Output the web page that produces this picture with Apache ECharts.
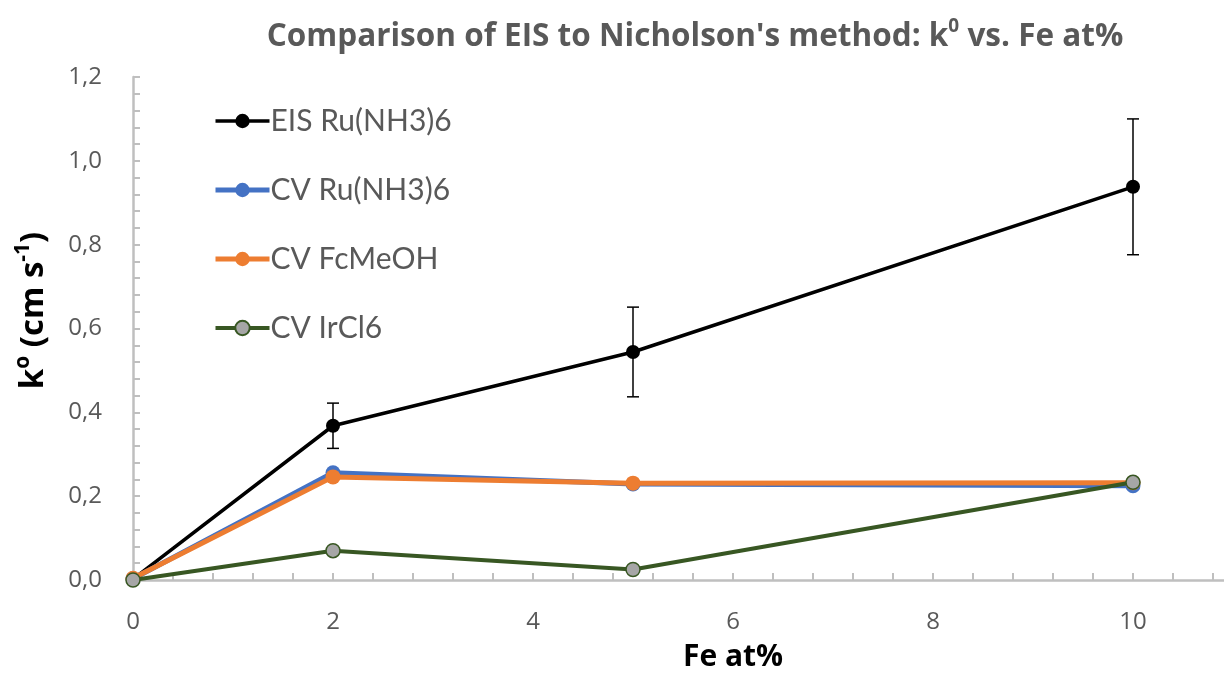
<!DOCTYPE html>
<html>
<head>
<meta charset="utf-8">
<script src="https://cdn.jsdelivr.net/npm/echarts@6/dist/echarts.min.js"></script>
<style>
html,body{margin:0;padding:0;background:#fff;}
#chart{width:1224px;height:677px;}
</style>
</head>
<body>
<div id="chart"></div>
<script>
// ---- data ----
const feAt = [0, 2, 5, 10];
const eisRu = [0.002, 0.368, 0.544, 0.938];
const eisErr = [0, 0.054, 0.107, 0.162];
const cvRu = [0.003, 0.256, 0.229, 0.225];
const cvFc = [0.004, 0.246, 0.231, 0.232];
const cvIr = [0.0, 0.070, 0.025, 0.233];
const seriesNames = ['EIS Ru(NH3)6', 'CV Ru(NH3)6', 'CV FcMeOH', 'CV IrCl6'];
const xTicks = [0, 2, 4, 6, 8, 10];
const yTicks = [0, 0.2, 0.4, 0.6, 0.8, 1.0, 1.2];

const FONT = 'Open Sans';
const LFONT = 'Lato';
const pairs = arr => feAt.map((x, i) => [x, arr[i]]);
const errData = feAt.map((x, i) => [x, eisRu[i] - eisErr[i], eisRu[i] + eisErr[i]]).filter((d, i) => eisErr[i] > 0);

const chart = echarts.init(document.getElementById('chart'), null, {renderer: 'canvas'});
const axisGray = '#bfbfbf';
const labelGray = '#595959';
const colors = ['#000000', '#4472c4', '#ed7d31', '#385723'];
const widths = [3.5, 5, 5, 4];

const option = {
  backgroundColor: '#fff',
  animation: false,
  textStyle: {fontFamily: FONT},
  title: {
    text: '{a|Comparison of EIS to Nicholson\'s method: k}{s|0}{a| vs. Fe at%}',
    left: 690,
    top: 12,
    textAlign: 'center',
    textStyle: {
      rich: {
        a: {fontFamily: FONT, fontSize: 31.5, fontWeight: 'bold', color: labelGray, lineHeight: 40},
        s: {fontFamily: FONT, fontSize: 19, fontWeight: 'bold', color: labelGray, verticalAlign: 'top', lineHeight: 40, padding: [0, 0, 14, 0]}
      }
    }
  },
  legend: {
    data: seriesNames.map((n, i) => ({name: n, lineStyle: {width: widths[i]}})),
    orient: 'vertical',
    left: 208,
    top: 98,
    itemWidth: 54,
    itemHeight: 18,
    itemGap: 33,
    textStyle: {fontFamily: LFONT, fontSize: 30, lineHeight: 36, color: labelGray, padding: [0, 0, 0, -4]}
  },
  grid: {left: 133, width: 1200, top: 77, bottom: 97, containLabel: false, outerBoundsMode: 'none'},
  xAxis: {
    type: 'value',
    min: 0,
    max: 12,
    interval: 2,
    name: 'Fe at%',
    nameLocation: 'middle',
    nameGap: 62,
    nameTextStyle: {fontFamily: FONT, fontSize: 30, fontWeight: 'bold', color: '#000'},
    axisLine: {lineStyle: {color: axisGray, width: 2.5}},
    axisTick: {inside: true, length: 7, lineStyle: {color: axisGray, width: 2}},
    minorTick: {show: true, splitNumber: 5, length: 7, lineStyle: {color: axisGray, width: 2}},
    splitLine: {show: false},
    axisLabel: {
      margin: 30, fontFamily: FONT, fontSize: 24, color: labelGray,
      formatter: v => (xTicks.indexOf(v) >= 0 ? String(v) : '')
    }
  },
  yAxis: {
    type: 'value',
    min: 0,
    max: 1.2,
    interval: 0.2,
    name: '{b|k}{s|o}{b| (cm s}{s|-1}{b|)}',
    nameLocation: 'middle',
    nameGap: 78,
    nameTextStyle: {
      padding: [0, 0, 0, 36],
      rich: {
        b: {fontFamily: FONT, fontSize: 33, fontWeight: 'bold', color: '#000', lineHeight: 42},
        s: {fontFamily: FONT, fontSize: 21, fontWeight: 'bold', color: '#000', verticalAlign: 'top', lineHeight: 42, padding: [0, 0, 13, 0]}
      }
    },
    axisLine: {show: true, lineStyle: {color: axisGray, width: 2.5}},
    axisTick: {show: true, inside: true, length: 7, lineStyle: {color: axisGray, width: 2}},
    minorTick: {show: true, splitNumber: 5, length: 7, lineStyle: {color: axisGray, width: 2}},
    splitLine: {show: false},
    axisLabel: {
      margin: 31, fontFamily: FONT, fontSize: 24, color: labelGray,
      formatter: v => v.toFixed(1).replace('.', ',')
    }
  },
  series: [
    {
      name: seriesNames[0], type: 'line', data: pairs(eisRu),
      symbol: 'circle', symbolSize: 14, color: colors[0],
      lineStyle: {color: colors[0], width: widths[0]},
      itemStyle: {color: colors[0]}, z: 3
    },
    {
      name: seriesNames[1], type: 'line', data: pairs(cvRu),
      symbol: 'circle', symbolSize: 15, color: colors[1],
      lineStyle: {color: colors[1], width: widths[1]},
      itemStyle: {color: colors[1]}, z: 4
    },
    {
      name: seriesNames[2], type: 'line', data: pairs(cvFc),
      symbol: 'circle', symbolSize: 15, color: colors[2],
      lineStyle: {color: colors[2], width: widths[2]},
      itemStyle: {color: colors[2]}, z: 5
    },
    {
      name: seriesNames[3], type: 'line', data: pairs(cvIr),
      symbol: 'circle', symbolSize: 14, color: colors[3],
      lineStyle: {color: colors[3], width: widths[3]},
      itemStyle: {color: '#a6a6a6', borderColor: colors[3], borderWidth: 1.5}, z: 6
    },
    {
      name: 'EIS error', type: 'custom', data: errData, z: 7,
      renderItem: function (params, api) {
        const x = api.value(0);
        const lo = api.coord([x, api.value(1)]);
        const hi = api.coord([x, api.value(2)]);
        const cap = 6;
        const st = {stroke: '#000', lineWidth: 1.5};
        return {
          type: 'group',
          children: [
            {type: 'line', shape: {x1: lo[0], y1: lo[1], x2: hi[0], y2: hi[1]}, style: st},
            {type: 'line', shape: {x1: hi[0] - cap, y1: hi[1], x2: hi[0] + cap, y2: hi[1]}, style: st},
            {type: 'line', shape: {x1: lo[0] - cap, y1: lo[1], x2: lo[0] + cap, y2: lo[1]}, style: st}
          ]
        };
      }
    }
  ]
};
chart.setOption(option);
</script>
</body>
</html>
